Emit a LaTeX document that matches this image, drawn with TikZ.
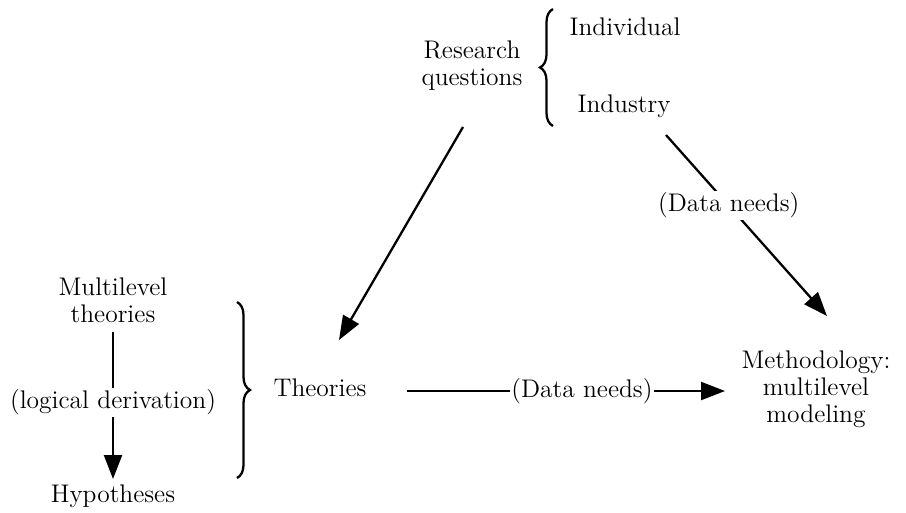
\documentclass[tikz,border=0pt]{standalone}
\usetikzlibrary{arrows.meta,decorations.pathreplacing}

\tikzset{
  lbl/.style={inner sep=2pt, align=center, font=\fontsize{14.5}{15.5}\selectfont},
  arr/.style={line width=1.3pt, -{Triangle[length=0.48cm,width=0.36cm]}},
  gap/.style={fill=white, inner sep=1pt, font=\fontsize{14.5}{15.5}\selectfont},
  curly/.style={line width=1.3pt, decorate, decoration={brace, amplitude=0.26cm}}
}

\begin{document}
\begin{tikzpicture}[x=0.02cm,y=-0.02cm]
  \useasboundingbox (0,0) rectangle (906,512);

  % Research questions and its two levels
  \node[lbl] (rq) at (472,66) {Research\\questions};
  \node[lbl] (indiv) at (625,27) {Individual};
  \node[lbl] (indus) at (624,106) {Industry};
  \draw[curly] (553,126) -- (553,9);

  % Left block: theories to hypotheses
  \node[lbl] (mlt) at (113,300) {Multilevel\\theories};
  \node[lbl] (hyp) at (113,496) {Hypotheses};
  \coordinate (mltout) at (113,332);
  \coordinate (hypin) at (113,479);
  \draw[arr] (mltout) -- (hypin)
    node[gap, pos=0.48] {(logical derivation)};
  \draw[curly] (237,302) -- (237,478);

  % Theories and methodology
  \node[lbl] (th) at (320,388) {Theories};
  \node[lbl] (meth) at (816,389) {Methodology:\\multilevel\\modeling};

  % Connectors
  \coordinate (rqout) at (463,127);
  \coordinate (thin) at (339,340);
  \draw[arr] (rqout) -- (thin);

  \coordinate (indout) at (666,135);
  \coordinate (methin) at (827,316);
  \draw[arr] (indout) -- (methin)
    node[gap, pos=0.39] {(Data needs)};

  \coordinate (thout) at (407,391);
  \coordinate (methleft) at (725,391);
  \draw[arr] (thout) -- (methleft)
    node[gap, pos=0.55] {(Data needs)};

\end{tikzpicture}
\end{document}
